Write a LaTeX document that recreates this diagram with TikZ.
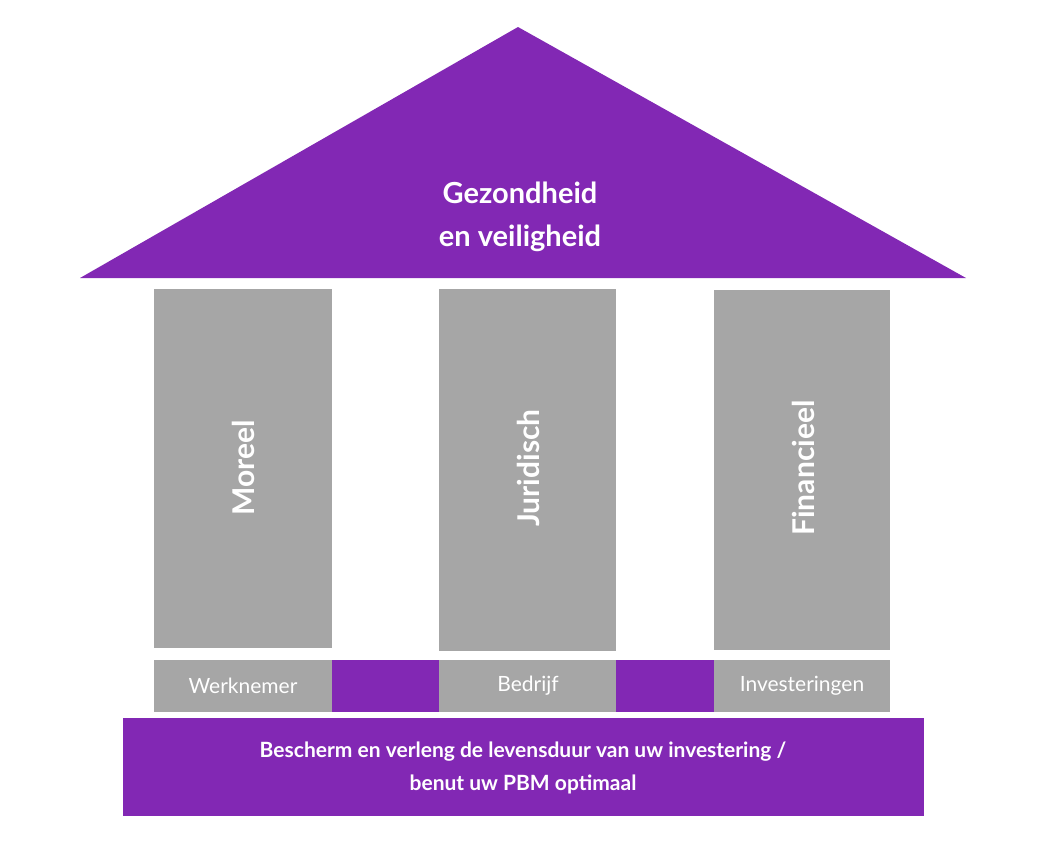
\documentclass[tikz,border=0pt]{standalone}
\usepackage{fontspec}
\setmainfont{Lato}
\definecolor{pp}{HTML}{8228B4}
\definecolor{gr}{HTML}{A6A6A6}
\begin{document}
\begin{tikzpicture}[x=1pt,y=-1pt,
  pill/.style={fill=gr,draw=none},
  band/.style={fill=pp,draw=none},
  plabel/.style={rotate=90,text=white,font=\fontsize{30}{36}\selectfont\bfseries},
  blabel/.style={text=white,font=\fontsize{21}{26}\selectfont}]
\useasboundingbox (0,0) rectangle (1043,847);
\fill[pp] (80,278) -- (518,27) -- (966,278) -- cycle;
\node[text=white,align=center,font=\fontsize{29}{43}\selectfont\bfseries] (roof) at (520,217) {Gezondheid\\en veiligheid};
\path[pill] (154,289) rectangle (332,648);
\path[pill] (439,289) rectangle (616,651);
\path[pill] (714,290) rectangle (890,650);
\node[plabel] (m) at (243,468) {Moreel};
\node[plabel] (j) at (528,468) {Juridisch};
\node[plabel] (f) at (803,468) {Financieel};
\path[pill] (154,660) rectangle (332,712);
\path[band] (332,660) rectangle (439,712);
\path[pill] (439,660) rectangle (616,712);
\path[band] (616,660) rectangle (714,712);
\path[pill] (714,660) rectangle (890,712);
\node[blabel] (w) at (243,686) {Werknemer};
\node[blabel] (b) at (528,686) {Bedrijf};
\node[blabel] (i) at (802,686) {Investeringen};
\path[band] (123,718) rectangle (924,816);
\node[blabel,align=center,font=\fontsize{21}{33}\selectfont\bfseries] (base) at (523,768) {Bescherm en verleng de levensduur van uw investering /\\benut uw PBM optimaal};
\end{tikzpicture}
\end{document}
